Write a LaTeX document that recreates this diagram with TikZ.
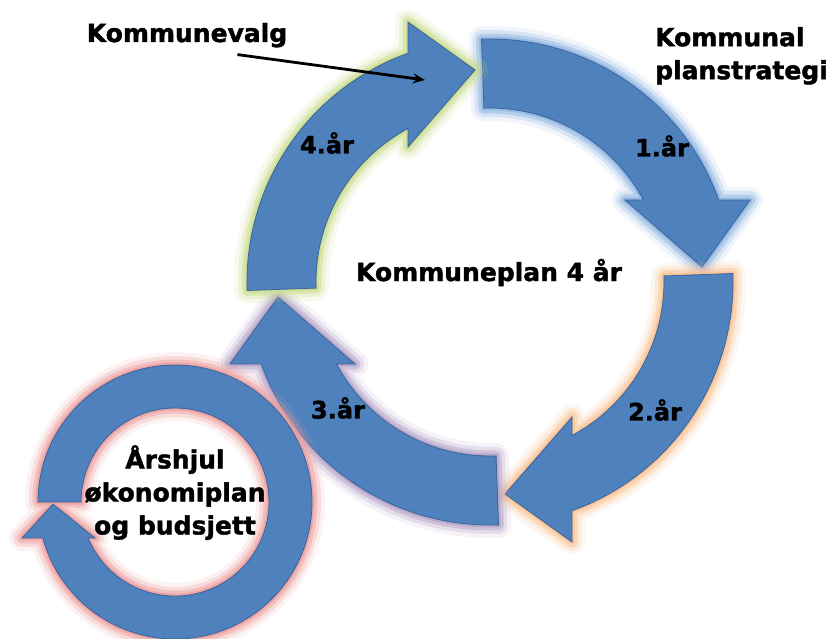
\documentclass[tikz,border=0pt]{standalone}
\usepackage{fontspec}
\setmainfont{DejaVu Sans}[BoldFeatures={FakeBold=1.6}]
\usetikzlibrary{arrows.meta, positioning}

\definecolor{arrowfill}{HTML}{4F81BD}
\definecolor{arrowedge}{HTML}{3A649C}
\definecolor{glowblue}{HTML}{8DB4E2}
\definecolor{gloworange}{HTML}{FAC08F}
\definecolor{glowpurple}{HTML}{B3A2C7}
\definecolor{glowgreen}{HTML}{C9DC8A}
\definecolor{glowred}{HTML}{EE9C9C}

% one quarter of the big cycle, relative to its centre
\newcommand{\yeararrow}{(92:243) arc[start angle=92, end angle=19.72, radius=243]
  -- (260,82) -- (212,15) -- (135,82) -- (153.45,82)
  arc[start angle=28.12, end angle=92, radius=174] -- cycle}

\begin{document}
\begin{tikzpicture}[x=1pt, y=1pt,
    lbl/.style={font=\fontsize{25}{33}\selectfont\bfseries, align=center, inner sep=0pt},
    yearlbl/.style={font=\fontsize{24}{28}\selectfont\bfseries, inner sep=0pt},
    blockarrow/.style={fill=arrowfill, draw=arrowedge, line width=0.8pt},
    glow/.style={preaction={draw=#1, line width=26pt, opacity=.12, line join=round},
                 preaction={draw=#1, line width=18pt, opacity=.25, line join=round},
                 preaction={draw=#1, line width=11pt, opacity=.45, line join=round},
                 preaction={draw=#1, line width=5pt, opacity=.7, line join=round}},
    pointer/.style={-{Stealth[length=12pt, width=10pt]}, line width=2.8pt}
]
\fill[white] (0,0) rectangle (832,-639);
\useasboundingbox (0,0) rectangle (832,-639);

\coordinate (cycle) at (490,-282);
\coordinate (wheel) at (175,-502);

% the four years
\foreach \k/\g in {0/glowblue, 1/gloworange, 2/glowpurple, 3/glowgreen}{
  \begin{scope}[shift={(cycle)}, rotate=-90*\k]
    \path[blockarrow, glow=\g] \yeararrow;
  \end{scope}
}

% yearly wheel
\begin{scope}[shift={(wheel)}]
  \path[blockarrow, glow=glowred] (180:137) arc[start angle=180, end angle=-164.8, radius=137]
    -- (-153,-36) -- (-122,-2) -- (-80,-36) -- (-86.8,-36)
    arc[start angle=-157.5, end angle=180, radius=94] -- cycle;
\end{scope}

\node[yearlbl] (y1) at (662,-146) {1.år};
\node[yearlbl] (y2) at (655,-410) {2.år};
\node[yearlbl] (y3) at (338,-408) {3.år};
\node[yearlbl] (y4) at (327,-143) {4.år};

\node[lbl, anchor=base] (plan) at (489,-281) {Kommuneplan 4 år};
\node[lbl, anchor=base] (valg) at (187,-42) {Kommunevalg};
\node[lbl, align=left, anchor=north west] (strategi) at (655,-27)
  {Kommunal\\planstrategi};
\node[lbl, anchor=north] (hjul) at (175,-445)
  {Årshjul\\økonomiplan\\og budsjett};

\coordinate (valgtip) at (425,-80);
\draw[pointer] ([xshift=-50pt, yshift=-7pt]valg.south east) -- (valgtip);

\end{tikzpicture}
\end{document}
